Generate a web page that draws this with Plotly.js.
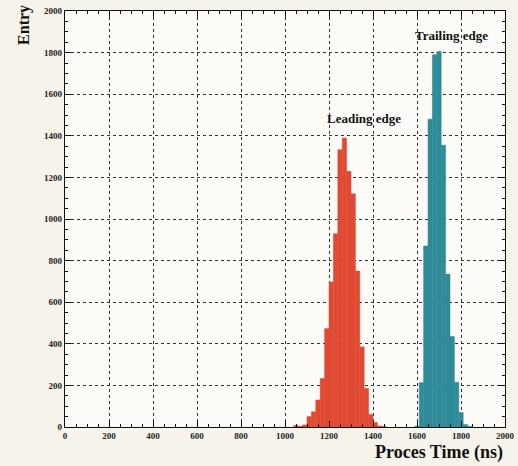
<!DOCTYPE html>
<html>
<head>
<meta charset="utf-8">
<script src="https://cdn.plot.ly/plotly-3.0.1.min.js"></script>
<style>html,body{margin:0;padding:0;background:#f6f4ea;}#chart{width:518px;height:466px;}</style>
</head>
<body>
<div id="chart"></div>
<script>
// Leading edge histogram (bin centers, ns) and entries
const leadingX = [1050,1070,1090,1110,1130,1150,1170,1190,1210,1230,1250,1270,1290,1310,1330,1350,1370,1390,1410,1430,1450];
const leadingY = [8,4,10,50,73,130,233,473,697,929,1333,1389,1229,1121,750,385,185,60,22,5,3];
// Trailing edge histogram
const trailingX = [1600,1620,1640,1660,1680,1700,1720,1740,1760,1780,1800,1820,1840];
const trailingY = [4,213,870,1480,1790,1805,1355,735,435,215,70,12,3];
const binWidth = 20;

const font = "Liberation Serif, Times New Roman, serif";

const traces = [
  {type:'bar', x:leadingX, y:leadingY, width:binWidth,
   marker:{color:'#e04a33', line:{color:'#e04a33', width:0.5}}, showlegend:false, hoverinfo:'x+y'},
  {type:'bar', x:trailingX, y:trailingY, width:binWidth,
   marker:{color:'#2e8b97', line:{color:'#2e8b97', width:0.5}}, showlegend:false, hoverinfo:'x+y'}
];

const axisCommon = {
  showline:true, linecolor:'#111', linewidth:1.2, mirror:'allticks',
  ticks:'inside', ticklen:6, tickwidth:1, tickcolor:'#111',
  showgrid:true, gridcolor:'#333', griddash:'dot', gridwidth:1,
  zeroline:false,
  tickfont:{family:font, size:9, color:'#222', weight:'bold'},
  minor:{dtick:50, ticks:'inside', ticklen:3, tickcolor:'#111', showgrid:false}
};

const layout = {
  width:518, height:466,
  margin:{l:65, r:13, t:11, b:39},
  paper_bgcolor:'#f6f4ea', plot_bgcolor:'#fcfbf7',
  bargap:0, barmode:'overlay',
  xaxis:Object.assign({}, axisCommon, {range:[0,2000], dtick:200, tick0:0}),
  yaxis:Object.assign({}, axisCommon, {range:[0,2000], dtick:200, tick0:0}),
  annotations:[
    {text:'Leading edge', x:1361, y:1482, xref:'x', yref:'y', showarrow:false,
     font:{family:font, size:13, color:'#111', weight:'bold'}},
    {text:'Trailing edge', x:1759, y:1880, xref:'x', yref:'y', showarrow:false,
     font:{family:font, size:13, color:'#111', weight:'bold'}},
    {text:'Proces Time (ns)', xref:'paper', yref:'paper', x:1.0, y:-0.062, xanchor:'right', yanchor:'middle',
     showarrow:false, font:{family:font, size:18, color:'#111', weight:'bold'}},
    {text:'Entry', xref:'paper', yref:'paper', x:-0.095, y:1.02, xanchor:'center', yanchor:'top',
     textangle:-90, showarrow:false, font:{family:font, size:16, color:'#111', weight:'bold'}}
  ]
};

Plotly.newPlot('chart', traces, layout, {displayModeBar:false, staticPlot:true});
</script>
</body>
</html>
